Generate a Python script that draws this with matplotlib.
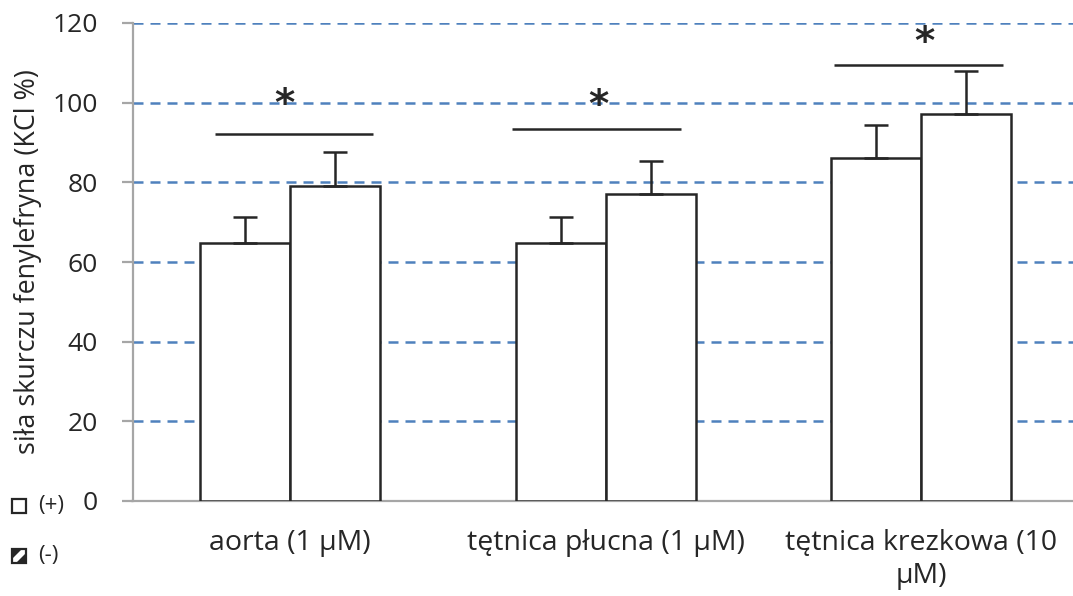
import matplotlib
matplotlib.use("Agg")
import matplotlib.pyplot as plt
from matplotlib.patches import Rectangle, Polygon
import numpy as np

plt.rcParams['font.family'] = ['Open Sans', 'DejaVu Sans']

categories = ["aorta (1 µM)", "tętnica płucna (1 µM)", "tętnica krezkowa (10\nµM)"]
plus_values = [64.8, 64.8, 86.0]
plus_err = [6.5, 6.6, 8.5]
minus_values = [79.1, 77.0, 97.1]
minus_err = [8.6, 8.4, 10.8]
sig_levels = [92.1, 93.3, 109.5]
sig_left = [-0.238, -0.296, -0.276]
sig_right = [0.263, 0.240, 0.260]
star_levels = [99.4, 99.2, 115.0]
star_offsets = [-0.018, -0.022, 0.010]
y_ticks = [0, 20, 40, 60, 80, 100, 120]

W, H = 1073, 596
fig = plt.figure(figsize=(W / 100, H / 100), dpi=100)
ax = fig.add_axes([132.5 / W, (H - 501) / H, (1078.75 - 132.5) / W, 478 / H])

x = np.arange(len(categories))
bw = 0.285
dark = "#262626"
grey = "#a6a6a6"

ax.set_xlim(-0.5, len(categories) - 0.5)
ax.set_ylim(0, 120)

for yv in y_ticks[1:]:
    ax.axhline(yv, color="#4f81bd", lw=1.8, ls=(0, (4, 2.8)), zorder=1)

ax.bar(x - bw / 2, plus_values, bw, color="white", edgecolor=dark, lw=1.8, zorder=3,
       yerr=[np.zeros(3), plus_err], error_kw=dict(ecolor=dark, elinewidth=1.8,
                                                   capsize=8.6, capthick=1.8, zorder=4))
ax.bar(x + bw / 2, minus_values, bw, color="white", edgecolor=dark, lw=1.8, zorder=3,
       yerr=[np.zeros(3), minus_err], error_kw=dict(ecolor=dark, elinewidth=1.8,
                                                    capsize=8.6, capthick=1.8, zorder=4))

for i in range(len(categories)):
    ax.plot([x[i] + sig_left[i], x[i] + sig_right[i]], [sig_levels[i]] * 2,
            color=dark, lw=1.8, zorder=5, solid_capstyle="butt")
    ax.text(x[i] + star_offsets[i], star_levels[i], "*", ha="center", va="center",
            fontsize=28, fontweight="bold", color=dark, zorder=6, family="DejaVu Sans")

for s in ["top", "right"]:
    ax.spines[s].set_visible(False)
ax.spines["left"].set_color(grey)
ax.spines["bottom"].set_color(grey)
ax.spines["left"].set_linewidth(1.6)
ax.spines["bottom"].set_linewidth(1.6)
ax.spines["left"].set_zorder(2)

ax.set_yticks(y_ticks)
ax.tick_params(axis="y", length=8, width=1.6, color=grey, pad=17,
               labelsize=19, labelcolor=dark)
ax.set_xticks(x)
ax.set_xticklabels(categories, fontsize=20.5, color=dark, linespacing=1.25)
ax.tick_params(axis="x", length=0, pad=20)
ax.set_ylabel("siła skurczu fenylefryna (KCl %)", fontsize=19.4, color=dark)
ax.yaxis.set_label_coords(-90 / 946, 0.5)


# legend entries placed in the lower left corner (pixel coordinates from top-left)
def fpt(px, py):
    return (px / W, 1 - py / H)


def fig_rect(px, py, size, **kw):
    r = Rectangle(fpt(px, py + size), size / W, size / H,
                  transform=fig.transFigure, **kw)
    fig.add_artist(r)


fig_rect(12, 499, 14, facecolor="white", edgecolor=dark, lw=1.6)
fig_rect(12, 549, 14, facecolor=dark, edgecolor="none")
band = Polygon([fpt(12, 563), fpt(16, 563), fpt(26, 553), fpt(26, 549),
                fpt(22, 549), fpt(12, 559)],
               closed=True, transform=fig.transFigure, facecolor="white",
               edgecolor="none")
fig.add_artist(band)
fig_rect(12, 549, 14, facecolor="none", edgecolor=dark, lw=1.6)
fig.text(38 / W, 1 - 506 / H, "(+)", fontsize=16, color=dark, va="center", ha="left")
fig.text(38 / W, 1 - 556 / H, "(-)", fontsize=16, color=dark, va="center", ha="left")

fig.savefig("out.png", dpi=100)
